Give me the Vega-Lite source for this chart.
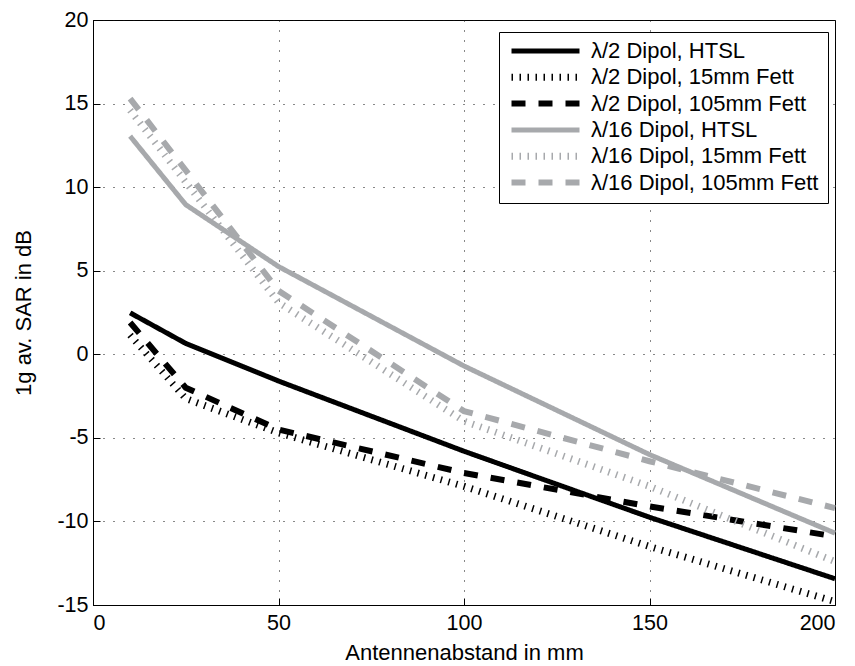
{
  "$schema": "https://vega.github.io/schema/vega-lite/v6.json",
  "width": 742,
  "height": 585,
  "autosize": {"type": "none"},
  "padding": {"left": 93, "top": 20, "right": 20, "bottom": 61},
  "background": "white",
  "config": {
    "font": "Liberation Sans",
    "view": {"stroke": "black", "strokeWidth": 1},
    "axis": {
      "domainColor": "black",
      "tickColor": "black",
      "labelColor": "black",
      "titleColor": "black",
      "labelFont": "Liberation Sans",
      "titleFont": "Liberation Sans",
      "labelFontSize": 21.5,
      "titleFontSize": 22,
      "titleFontWeight": "normal",
      "tickSize": -7,
      "grid": true,
      "gridColor": "#111",
      "gridDash": [1, 9],
      "gridWidth": 1
    }
  },
  "data": {
    "values": [
      {"series": "λ/2 Dipol, HTSL", "x": 10, "y": 2.48},
      {"series": "λ/2 Dipol, HTSL", "x": 25, "y": 0.65},
      {"series": "λ/2 Dipol, HTSL", "x": 50, "y": -1.6},
      {"series": "λ/2 Dipol, HTSL", "x": 100, "y": -5.8},
      {"series": "λ/2 Dipol, HTSL", "x": 150, "y": -9.75},
      {"series": "λ/2 Dipol, HTSL", "x": 200, "y": -13.43},
      {"series": "λ/2 Dipol, 15mm Fett", "x": 10, "y": 1.15},
      {"series": "λ/2 Dipol, 15mm Fett", "x": 25, "y": -2.65},
      {"series": "λ/2 Dipol, 15mm Fett", "x": 50, "y": -4.7},
      {"series": "λ/2 Dipol, 15mm Fett", "x": 100, "y": -7.9},
      {"series": "λ/2 Dipol, 15mm Fett", "x": 150, "y": -11.5},
      {"series": "λ/2 Dipol, 15mm Fett", "x": 200, "y": -14.8},
      {"series": "λ/2 Dipol, 105mm Fett", "x": 10, "y": 1.9},
      {"series": "λ/2 Dipol, 105mm Fett", "x": 25, "y": -2.0},
      {"series": "λ/2 Dipol, 105mm Fett", "x": 50, "y": -4.5},
      {"series": "λ/2 Dipol, 105mm Fett", "x": 100, "y": -7.1},
      {"series": "λ/2 Dipol, 105mm Fett", "x": 150, "y": -9.1},
      {"series": "λ/2 Dipol, 105mm Fett", "x": 200, "y": -10.9},
      {"series": "λ/16 Dipol, HTSL", "x": 10, "y": 13.05},
      {"series": "λ/16 Dipol, HTSL", "x": 25, "y": 8.95},
      {"series": "λ/16 Dipol, HTSL", "x": 50, "y": 5.25},
      {"series": "λ/16 Dipol, HTSL", "x": 100, "y": -0.7},
      {"series": "λ/16 Dipol, HTSL", "x": 150, "y": -6.0},
      {"series": "λ/16 Dipol, HTSL", "x": 200, "y": -10.7},
      {"series": "λ/16 Dipol, 15mm Fett", "x": 10, "y": 14.6},
      {"series": "λ/16 Dipol, 15mm Fett", "x": 25, "y": 10.3},
      {"series": "λ/16 Dipol, 15mm Fett", "x": 50, "y": 3.1},
      {"series": "λ/16 Dipol, 15mm Fett", "x": 100, "y": -4.0},
      {"series": "λ/16 Dipol, 15mm Fett", "x": 150, "y": -7.9},
      {"series": "λ/16 Dipol, 15mm Fett", "x": 200, "y": -12.4},
      {"series": "λ/16 Dipol, 105mm Fett", "x": 10, "y": 15.3},
      {"series": "λ/16 Dipol, 105mm Fett", "x": 25, "y": 11.0},
      {"series": "λ/16 Dipol, 105mm Fett", "x": 50, "y": 3.8},
      {"series": "λ/16 Dipol, 105mm Fett", "x": 100, "y": -3.4},
      {"series": "λ/16 Dipol, 105mm Fett", "x": 150, "y": -6.4},
      {"series": "λ/16 Dipol, 105mm Fett", "x": 200, "y": -9.2}
    ]
  },
  "mark": {"type": "line", "strokeCap": "butt", "strokeJoin": "miter"},
  "encoding": {
    "x": {
      "field": "x", "type": "quantitative",
      "scale": {"domain": [0, 200], "nice": false, "zero": false},
      "axis": {"values": [0, 50, 100, 150, 200], "title": "Antennenabstand in mm", "labelPadding": 14, "titlePadding": 9}
    },
    "y": {
      "field": "y", "type": "quantitative",
      "scale": {"domain": [-15, 20], "nice": false, "zero": false},
      "axis": {"values": [-15, -10, -5, 0, 5, 10, 15, 20], "labelExpr": "toString(datum.value)", "title": "1g av. SAR in dB", "labelPadding": 12, "titlePadding": 21}
    },
    "color": {
      "field": "series", "type": "nominal",
      "scale": {
        "domain": ["λ/2 Dipol, HTSL", "λ/2 Dipol, 15mm Fett", "λ/2 Dipol, 105mm Fett", "λ/16 Dipol, HTSL", "λ/16 Dipol, 15mm Fett", "λ/16 Dipol, 105mm Fett"],
        "range": ["#000000", "#000000", "#000000", "#a7a9ac", "#a7a9ac", "#a7a9ac"]
      },
      "legend": {
        "title": null,
        "orient": "none",
        "legendX": 406,
        "legendY": 12,
        "strokeColor": "black",
        "fillColor": "white",
        "padding": 9,
        "symbolType": "stroke",
        "symbolSize": 4624,
        "clipHeight": 20,
        "rowPadding": 4.3,
        "labelFontSize": 22,
        "labelFont": "Liberation Sans",
        "labelColor": "black",
        "labelOffset": 8,
        "labelLimit": 400
      }
    },
    "strokeDash": {
      "field": "series", "type": "nominal",
      "scale": {
        "domain": ["λ/2 Dipol, HTSL", "λ/2 Dipol, 15mm Fett", "λ/2 Dipol, 105mm Fett", "λ/16 Dipol, HTSL", "λ/16 Dipol, 15mm Fett", "λ/16 Dipol, 105mm Fett"],
        "range": [[1, 0], [1.5, 6.5], [14, 13], [1, 0], [1.5, 6.5], [14, 13]]
      }
    },
    "strokeWidth": {
      "field": "series", "type": "nominal",
      "scale": {
        "type": "ordinal",
        "domain": ["λ/2 Dipol, HTSL", "λ/2 Dipol, 15mm Fett", "λ/2 Dipol, 105mm Fett", "λ/16 Dipol, HTSL", "λ/16 Dipol, 15mm Fett", "λ/16 Dipol, 105mm Fett"],
        "range": [5, 7, 6, 5, 7, 6]
      }
    }
  }
}
